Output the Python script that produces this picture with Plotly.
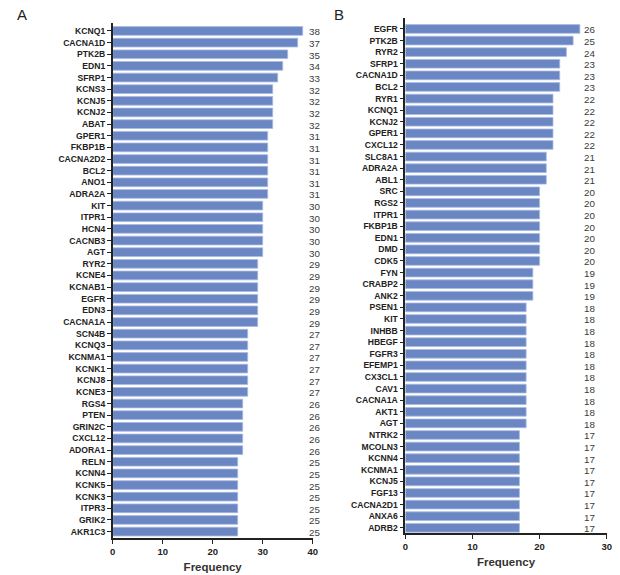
import plotly.graph_objects as go

genes_a = ["KCNQ1", "CACNA1D", "PTK2B", "EDN1", "SFRP1", "KCNS3", "KCNJ5", "KCNJ2", "ABAT",
           "GPER1", "FKBP1B", "CACNA2D2", "BCL2", "ANO1", "ADRA2A", "KIT", "ITPR1", "HCN4",
           "CACNB3", "AGT", "RYR2", "KCNE4", "KCNAB1", "EGFR", "EDN3", "CACNA1A", "SCN4B",
           "KCNQ3", "KCNMA1", "KCNK1", "KCNJ8", "KCNE3", "RGS4", "PTEN", "GRIN2C", "CXCL12",
           "ADORA1", "RELN", "KCNN4", "KCNK5", "KCNK3", "ITPR3", "GRIK2", "AKR1C3"]
freq_a = [38, 37, 35, 34, 33, 32, 32, 32, 32,
          31, 31, 31, 31, 31, 31, 30, 30, 30,
          30, 30, 29, 29, 29, 29, 29, 29, 27,
          27, 27, 27, 27, 27, 26, 26, 26, 26,
          26, 25, 25, 25, 25, 25, 25, 25]

genes_b = ["EGFR", "PTK2B", "RYR2", "SFRP1", "CACNA1D", "BCL2", "RYR1", "KCNQ1", "KCNJ2",
           "GPER1", "CXCL12", "SLC8A1", "ADRA2A", "ABL1", "SRC", "RGS2", "ITPR1", "FKBP1B",
           "EDN1", "DMD", "CDK5", "FYN", "CRABP2", "ANK2", "PSEN1", "KIT", "INHBB", "HBEGF",
           "FGFR3", "EFEMP1", "CX3CL1", "CAV1", "CACNA1A", "AKT1", "AGT", "NTRK2", "MCOLN3",
           "KCNN4", "KCNMA1", "KCNJ5", "FGF13", "CACNA2D1", "ANXA6", "ADRB2"]
freq_b = [26, 25, 24, 23, 23, 23, 22, 22, 22,
          22, 22, 21, 21, 21, 20, 20, 20, 20,
          20, 20, 20, 19, 19, 19, 18, 18, 18, 18,
          18, 18, 18, 18, 18, 18, 18, 17, 17,
          17, 17, 17, 17, 17, 17, 17]

x_ticks_a = [0, 10, 20, 30, 40]
x_ticks_b = [0, 10, 20, 30]

BAR = "#6a86c3"
EDGE = "#a9badf"
FONT = "Liberation Sans, Arial, sans-serif"

fig = go.Figure()
fig.add_trace(go.Bar(x=freq_a, y=genes_a, orientation="h", xaxis="x", yaxis="y",
                     marker=dict(color=BAR, line=dict(color=EDGE, width=0.8)),
                     showlegend=False, hoverinfo="x+y"))
fig.add_trace(go.Bar(x=freq_b, y=genes_b, orientation="h", xaxis="x2", yaxis="y2",
                     marker=dict(color=BAR, line=dict(color=EDGE, width=0.8)),
                     showlegend=False, hoverinfo="x+y"))

annotations = []
for g, v in zip(genes_a, freq_a):
    annotations.append(dict(x=max(freq_a), y=g, xref="x", yref="y", text=str(v),
                            showarrow=False, xanchor="left", xshift=4, yshift=-1,
                            font=dict(size=9.8, color="#3a3a3a", family=FONT)))
for g, v in zip(genes_b, freq_b):
    annotations.append(dict(x=max(freq_b), y=g, xref="x2", yref="y2", text=str(v),
                            showarrow=False, xanchor="left", xshift=2, yshift=-1,
                            font=dict(size=9.8, color="#3a3a3a", family=FONT)))
annotations.append(dict(x=15 / 620, y=1 - 15 / 575, xref="paper", yref="paper", text="A",
                        showarrow=False, xanchor="left", yanchor="middle",
                        font=dict(size=15, color="#222222", family=FONT)))
annotations.append(dict(x=332 / 620, y=1 - 15 / 575, xref="paper", yref="paper", text="B",
                        showarrow=False, xanchor="left", yanchor="middle",
                        font=dict(size=15, color="#222222", family=FONT)))

axis_common = dict(showline=True, linecolor="#222222", linewidth=1.6, ticks="outside",
                   ticklen=4, tickwidth=1.4, tickcolor="#222222", showgrid=False,
                   zeroline=False, mirror=False, automargin=False)

fig.update_layout(
    width=620, height=575,
    margin=dict(l=0, r=0, t=0, b=0),
    plot_bgcolor="white", paper_bgcolor="white",
    bargap=0.25,
    font=dict(family=FONT, color="#222222"),
    xaxis=dict(domain=[112.7 / 620, 312.7 / 620], range=[0, 40], tickvals=x_ticks_a,
               anchor="y",
               tickfont=dict(size=9.5, weight="bold", family=FONT, color="#222222"),
               title=dict(text="Frequency", standoff=7,
                          font=dict(size=11.5, weight="bold", family=FONT, color="#333333")),
               **axis_common),
    yaxis=dict(domain=[1 - 538 / 575, 1 - 22.7 / 575], range=[43.55, -0.71],
               type="category", anchor="x",
               tickfont=dict(size=8.6, weight="bold", family=FONT, color="#222222"),
               **axis_common),
    xaxis2=dict(domain=[405.3 / 620, 606.7 / 620], range=[0, 30], tickvals=x_ticks_b,
                anchor="y2",
                tickfont=dict(size=9.5, weight="bold", family=FONT, color="#222222"),
                title=dict(text="Frequency", standoff=7,
                           font=dict(size=11.5, weight="bold", family=FONT, color="#333333")),
                **axis_common),
    yaxis2=dict(domain=[1 - 533 / 575, 1 - 18.3 / 575], range=[43.45, -0.92],
                type="category", anchor="x2",
                tickfont=dict(size=8.6, weight="bold", family=FONT, color="#222222"),
                **axis_common),
    annotations=annotations,
)

fig.write_html("out.html", config={"displayModeBar": False},
               post_script="document.body.style.margin='0';document.body.style.overflow='hidden';")
